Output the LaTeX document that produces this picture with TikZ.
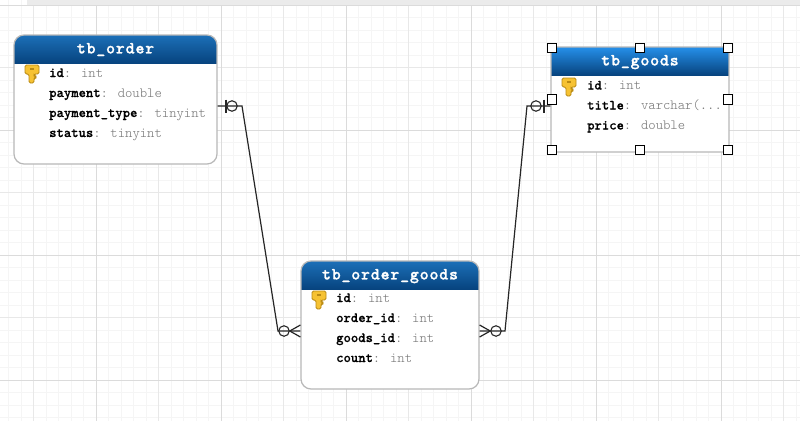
\documentclass[tikz,border=0pt]{standalone}
\usepackage{fontspec}
\usepackage{xcolor}
\usetikzlibrary{arrows.meta,positioning,calc}
\newfontfamily\rowfont[BoldFeatures={FakeBold=0.6}]{Latin Modern Mono Light}
\newfontfamily\headfont[LetterSpace=5,BoldFeatures={FakeBold=1.2}]{Latin Modern Mono Light}
\definecolor{hdblue}{HTML}{1C70B8}
\definecolor{hdbright}{HTML}{2690EA}
\definecolor{hddark}{HTML}{07447F}
\definecolor{tborder}{HTML}{B8B8B8}
\definecolor{keygold}{HTML}{F6C233}
\definecolor{keyedge}{HTML}{B98A14}
\definecolor{typegray}{HTML}{747474}
\newcommand{\attr}[2]{\textbf{#1}\textcolor{typegray}{: #2}}
\tikzset{
  tbl/.style={draw=tborder, line width=1.2pt, fill=white, rounded corners=10pt, inner sep=0pt,
              path picture={
                \foreach \k in {0,...,28} {
                  \pgfmathtruncatemacro{\mixpct}{100-100*\k/28}
                  \fill[sharp corners, #1!\mixpct!hddark]
                    ([yshift=-\k pt]path picture bounding box.north west) rectangle ([yshift=-\k pt-1.2pt]path picture bounding box.north east);
                }}},
  tbl/.default=hdblue,
  head/.style={font=\headfont\bfseries\fontsize{17}{17}\selectfont, text=white, inner sep=0pt, anchor=base},
  attr/.style={font=\rowfont\fontsize{14}{14}\selectfont, anchor=base west, inner sep=0pt},
  rel/.style={draw=black!85, line width=1.2pt},
  opt/.style={circle, draw=black!85, line width=1.1pt, minimum size=10.5pt, inner sep=0pt},
  handle/.style={draw=black, fill=white, line width=1.3pt, minimum size=9.5pt, inner sep=0pt},
  gridminor/.style={draw=black!4, line width=0.8pt},
  gridmid/.style={draw=black!9, line width=0.9pt},
  gridmajor/.style={draw=black!14, line width=1pt},
  pics/keyicon/.style={code={
    \draw[fill=keygold, draw=keyedge, line width=0.9pt, rounded corners=1.5pt]
      (-7,-8) -- (7,-8) -- (7,1) -- (2,1) -- (2,3) -- (4,3) -- (4,5) -- (2,5) -- (2,10)
      -- (-3,10) -- (-3,1) -- (-7,1) -- cycle;
    \fill[keyedge] (-2,-5) rectangle (2,-3);
  }},
}
\begin{document}
\begin{tikzpicture}[x=1pt, y=-1pt]
  \useasboundingbox (0,0) rectangle (800,421);
  \fill[white] (0,0) rectangle (800,421);
  \foreach \i in {0,...,63} \draw[gridminor] ({8.5+12.5*\i},0) -- ++(0,421);
  \foreach \i in {0,...,33} \draw[gridminor] (0,{5+12.5*\i}) -- ++(800,0);
  \foreach \i in {0,...,12} \draw[gridmid] ({33.5+62.5*\i},0) -- ++(0,421);
  \foreach \i in {0,...,6} \draw[gridmid] (0,{5+62.5*\i}) -- ++(800,0);
  \foreach \i in {0,...,5} \draw[gridmajor] ({96+125*\i},0) -- ++(0,421);
  \foreach \i in {0,...,3} \draw[gridmajor] (0,{5+125*\i}) -- ++(800,0);
  \fill[black!8] (27,0) rectangle (800,5);

  \coordinate (okink) at (242,106);
  \coordinate (ikink) at (278,331);
  \coordinate (gkink) at (527,106);
  \coordinate (jkink) at (505,331);

  \node[tbl, minimum width=203pt, minimum height=129pt] (order) at (115.5,99.5) {};
  \node[head] (ordertitle) at ([yshift=-19pt]order.north) {tb\_order};
  \pic at (32,73) {keyicon};
  \node[attr] (oid) at (49,77) {\attr{id}{int}};
  \node[attr] (opay) at ([yshift=-20pt]oid.base west) {\attr{payment}{double}};
  \node[attr] (otype) at ([yshift=-20pt]opay.base west) {\attr{payment\_type}{tinyint}};
  \node[attr] (ostatus) at ([yshift=-20pt]otype.base west) {\attr{status}{tinyint}};

  \node[tbl, minimum width=178pt, minimum height=128pt] (items) at (390,325) {};
  \node[head] (itemstitle) at ([yshift=-19pt]items.north) {tb\_order\_goods};
  \pic at (319,299) {keyicon};
  \node[attr] (iid) at (336,302) {\attr{id}{int}};
  \node[attr] (iorder) at ([yshift=-20pt]iid.base west) {\attr{order\_id}{int}};
  \node[attr] (igoods) at ([yshift=-20pt]iorder.base west) {\attr{goods\_id}{int}};
  \node[attr] (icount) at ([yshift=-20pt]igoods.base west) {\attr{count}{int}};

  \node[tbl=hdbright, rounded corners=6pt, minimum width=178pt, minimum height=105pt] (goods) at (640,99.5) {};
  \node[head] (goodstitle) at ([yshift=-19pt]goods.north) {tb\_goods};
  \pic at (569,86) {keyicon};
  \node[attr] (gid) at (587,89.5) {\attr{id}{int}};
  \node[attr] (gtitle) at ([yshift=-20pt]gid.base west) {\attr{title}{varchar(...}};
  \node[attr] (gprice) at ([yshift=-20pt]gtitle.base west) {\attr{price}{double}};

  \draw[rel] (order.east |- okink) -- (okink) -- (ikink) -- (items.west |- ikink);
  \draw[rel] (goods.west |- gkink) -- (gkink) -- (jkink) -- (items.east |- jkink);

  \node[opt] (oopt) at (232,106) {};
  \draw[rel] (226,99.5) -- (226,112.5);
  \node[opt] (gopt) at (536,106) {};
  \draw[rel] (544,99.5) -- (544,112.5);
  \node[opt] (iopt) at (284,331) {};
  \draw[rel] (iopt.east) -- (items.west |- 0,325);
  \draw[rel] (iopt.east) -- (items.west |- 0,337);
  \node[opt] (jopt) at (496,331) {};
  \draw[rel] (jopt.west) -- (items.east |- 0,325);
  \draw[rel] (jopt.west) -- (items.east |- 0,337);

  \foreach \hx/\hy/\n in {-88/-51.5/nw, 0/-51.5/n, 88/-51.5/ne, -88/0/w, 88/0/e, -88/50.5/sw, 0/50.5/s, 88/50.5/se}
    \node[handle] (h\n) at ($(goods.center)+(\hx,\hy)$) {};
\end{tikzpicture}
\end{document}
